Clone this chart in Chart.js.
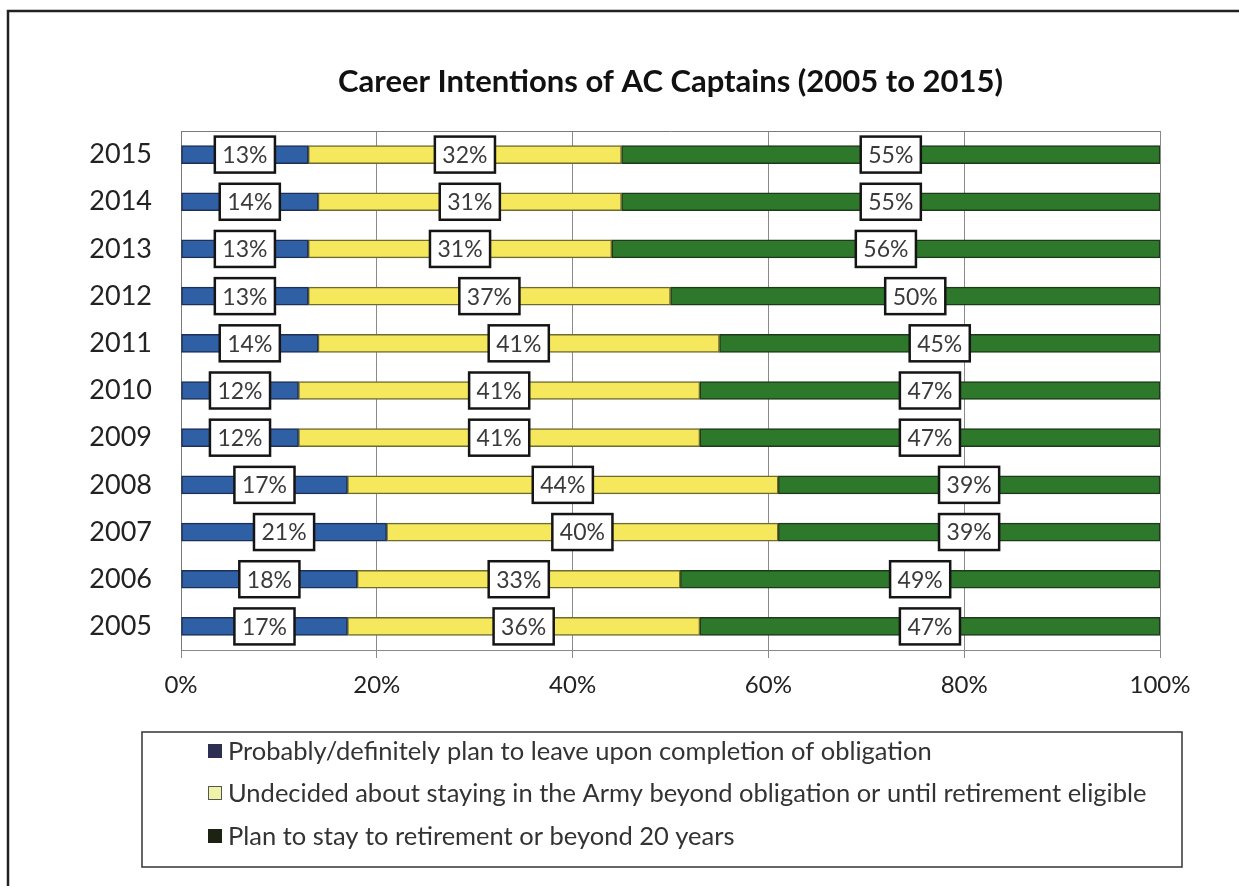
<!DOCTYPE html>
<html><head><meta charset="utf-8">
<script src="https://cdn.jsdelivr.net/npm/chart.js@4/dist/chart.umd.min.js"></script>
<style>html,body{margin:0;padding:0;background:#fff;}canvas{display:block;}</style>
</head><body>
<canvas id="c" width="1239" height="886"></canvas>
<script>
// ---- data ----
const TITLE = 'Career Intentions of AC Captains (2005 to 2015)';
const years = ['2015','2014','2013','2012','2011','2010','2009','2008','2007','2006','2005'];
const seriesNames = [
  'Probably/definitely plan to leave upon completion of obligation',
  'Undecided about staying in the Army beyond obligation or until retirement eligible',
  'Plan to stay to retirement or beyond 20 years'
];
const leaveValues     = [13,14,13,13,14,12,12,17,21,18,17];
const undecidedValues = [32,31,31,37,41,41,41,44,40,33,36];
const stayValues      = [55,55,56,50,45,47,47,39,39,49,47];
const xTickValues = [0,20,40,60,80,100];

// ---- style ----
const FONT = 'Lato, "Open Sans", sans-serif';
const barFill   = ['#2f60a6','#f6e85c','#2e782b'];
const barEdge   = ['#1e2f55','#6e6a30','#1c3a1a'];
const legendFill = ['#2d2f52','#eef3a8','#1d2313'];
const legendEdge = ['#2d2f52','#555','#1d2313'];

const decor = {
  id: 'decor',
  beforeDraw(chart) {
    const ctx = chart.ctx;
    ctx.save();
    ctx.fillStyle = '#fff';
    ctx.fillRect(0, 0, chart.width, chart.height);
    ctx.strokeStyle = '#222';
    ctx.lineWidth = 2.5;
    ctx.strokeRect(8, 11, 1400, 1000);
    ctx.restore();
  },
  beforeDatasetsDraw(chart) {
    const ctx = chart.ctx, a = chart.chartArea;
    ctx.save();
    ctx.strokeStyle = '#7a7a7a';
    ctx.lineWidth = 1;
    ctx.beginPath();
    ctx.moveTo(a.left, a.top + 0.5);
    ctx.lineTo(a.right, a.top + 0.5);
    ctx.stroke();
    ctx.restore();
  },
  afterDatasetsDraw(chart) {
    const ctx = chart.ctx;
    ctx.save();
    ctx.font = '23px ' + FONT;
    ctx.textAlign = 'center';
    ctx.textBaseline = 'middle';
    chart.data.datasets.forEach((ds, i) => {
      const meta = chart.getDatasetMeta(i);
      meta.data.forEach((el, j) => {
        const txt = ds.data[j] + '%';
        const cx = (el.x + el.base) / 2, cy = el.y;
        const w = ctx.measureText(txt).width + 15, h = 36;
        ctx.fillStyle = '#fff';
        ctx.fillRect(cx - w / 2, cy - h / 2, w, h);
        ctx.strokeStyle = '#151515';
        ctx.lineWidth = 2.5;
        ctx.strokeRect(cx - w / 2, cy - h / 2, w, h);
        ctx.fillStyle = '#3a3a3a';
        ctx.fillText(txt, cx, cy + 1);
      });
    });
    ctx.restore();
  },
  afterDraw(chart) {
    const ctx = chart.ctx, a = chart.chartArea;
    ctx.save();
    // title
    ctx.font = 'bold 31px ' + FONT;
    ctx.fillStyle = '#111';
    ctx.textAlign = 'center';
    ctx.textBaseline = 'middle';
    ctx.fillText(TITLE, (a.left + a.right) / 2, 82);
    // legend box
    ctx.strokeStyle = '#333';
    ctx.lineWidth = 1.5;
    ctx.strokeRect(142, 732, 1040, 135);
    ctx.font = '25.5px ' + FONT;
    ctx.textAlign = 'left';
    const ys = [751, 793, 836];
    chart.data.datasets.forEach((ds, i) => {
      ctx.fillStyle = legendFill[i];
      ctx.fillRect(208, ys[i] - 7, 14, 14);
      ctx.strokeStyle = legendEdge[i];
      ctx.lineWidth = 1;
      ctx.strokeRect(208.5, ys[i] - 6.5, 13, 13);
      ctx.fillStyle = '#333';
      ctx.fillText(ds.label, 228, ys[i] + 1);
    });
    ctx.restore();
  }
};

const valueSets = [leaveValues, undecidedValues, stayValues];
new Chart(document.getElementById('c'), {
  type: 'bar',
  data: {
    labels: years,
    datasets: valueSets.map((vals, i) => ({
      label: seriesNames[i],
      data: vals,
      backgroundColor: barFill[i],
      borderColor: barEdge[i],
      borderWidth: 1.5,
      borderSkipped: false,
      barThickness: 18
    }))
  },
  options: {
    indexAxis: 'y',
    responsive: false,
    animation: false,
    devicePixelRatio: 1,
    layout: { padding: { top: 131, right: 79, left: 0, bottom: 0 } },
    plugins: { legend: { display: false }, title: { display: false }, tooltip: { enabled: false } },
    scales: {
      x: {
        stacked: true, min: 0, max: 100,
        afterBuildTicks: s => { s.ticks = xTickValues.map(v => ({ value: v })); },
        afterFit: s => { s.height = 236; },
        ticks: { callback: v => v + '%', font: { size: 24, family: FONT }, color: '#222', padding: 13, maxRotation: 0 },
        grid: { color: '#8a8a8a', lineWidth: 1, tickLength: 8, drawTicks: true },
        border: { display: true, color: '#8a8a8a' }
      },
      y: {
        stacked: true,
        afterFit: s => { s.width = 181; },
        ticks: { font: { size: 27, family: FONT }, color: '#222', padding: 29 },
        grid: { display: false, drawTicks: false },
        border: { display: true, color: '#7a7a7a' }
      }
    }
  },
  plugins: [decor]
});
</script>
</body></html>
